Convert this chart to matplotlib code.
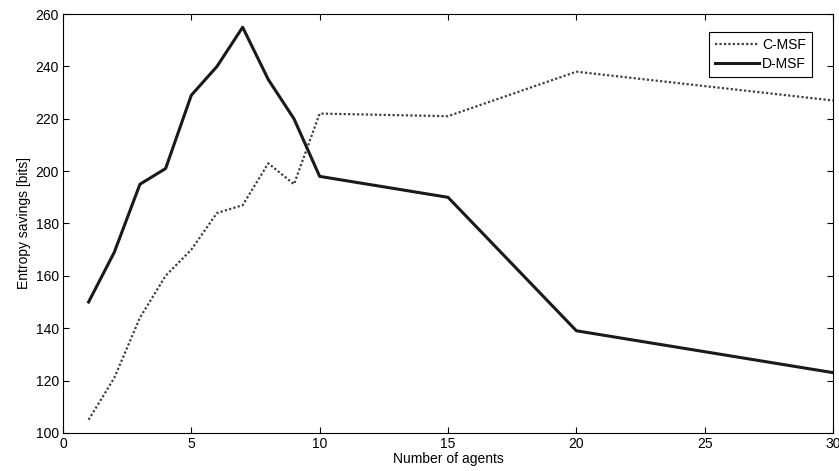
import matplotlib.pyplot as plt

N_AGENTS = [1, 2, 3, 4, 5, 6, 7, 8, 9, 10, 15, 20, 30]
C_MSF = [105, 121, 144, 160, 170, 184, 187, 203, 195, 222, 221, 238, 227]
D_MSF = [150, 169, 195, 201, 229, 240, 255, 235, 220, 198, 190, 139, 123]

plt.rcParams.update({
    "font.family": ["Liberation Sans", "DejaVu Sans"],
    "font.size": 10,
    "axes.linewidth": 0.8,
})

fig = plt.figure(figsize=(8.39, 4.71), dpi=100)
ax = fig.add_axes([0.075, 0.081, 0.918, 0.889])
ax.plot(N_AGENTS, C_MSF, color="0.25", lw=1.6, ls=(0, (1, 1)), label="C-MSF")
ax.plot(N_AGENTS, D_MSF, color="0.1", lw=2.2, ls="-", label="D-MSF")

ax.set_xlim(0, 30)
ax.set_ylim(100, 260)
ax.set_xticks([0, 5, 10, 15, 20, 25, 30])
ax.set_yticks(range(100, 261, 20))
ax.tick_params(direction="in", top=True, right=True, length=4, width=0.8, pad=3)
ax.set_xlabel("Number of agents", labelpad=1)
ax.set_ylabel("Entropy savings [bits]", labelpad=3)

leg = ax.legend(loc="upper right", bbox_to_anchor=(0.982, 0.975), fancybox=False,
                edgecolor="black", framealpha=1, handlelength=3.2, borderpad=0.45,
                labelspacing=0.35, handletextpad=0.2)
leg.get_frame().set_linewidth(0.8)

fig.savefig("out.png", dpi=100)
